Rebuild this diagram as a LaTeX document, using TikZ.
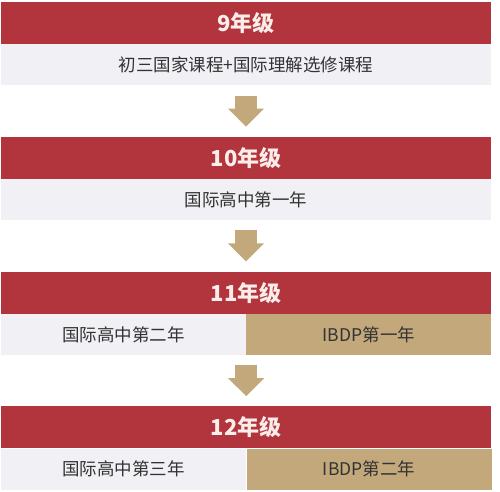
\documentclass[tikz,border=0pt]{standalone}
\usepackage{fontspec}
\setmainfont{Noto Sans CJK SC}
\usetikzlibrary{positioning,arrows.meta}
\definecolor{gradered}{HTML}{B2343C}
\definecolor{ibtan}{HTML}{C2A87A}
\definecolor{coursegray}{HTML}{F1F0F4}
\definecolor{coursetext}{HTML}{333333}
\definecolor{gradetext}{HTML}{FBEDEA}
\tikzset{
    %Define style for grade bars
    grade/.style={
           rectangle,
           fill=gradered,
           text=gradetext,
           font=\fontsize{22}{22}\selectfont\bfseries,
           minimum width=490pt,
           minimum height=42pt,
           inner sep=0pt},
    %Define style for course bars
    course/.style={
           rectangle,
           fill=coursegray,
           text=coursetext,
           font=\fontsize{17.5}{17.5}\selectfont,
           minimum width=490pt,
           minimum height=41pt,
           inner sep=0pt},
    %Define style for the IBDP half
    ibdp/.style={
           course,
           fill=ibtan,
           minimum width=245pt},
    % Define arrow style
    arrow/.style={
           -{Triangle[width=35pt,length=18pt]},
           draw=ibtan,
           line width=22pt,
           shorten <=10pt,
           shorten >=10pt,
           }
}

\begin{document}
\begin{tikzpicture}[x=1pt, y=-1pt, node distance=51pt]
    \useasboundingbox (0,0) rectangle (500,491);
    \node [grade] (G9) at (246,23) {9年级};
    \node [course, below=0pt of G9] (C9) {初三国家课程+国际理解选修课程};
    \node [grade, below=of C9] (G10) {10年级};
    \node [course, below=0pt of G10] (C10) {国际高中第一年};
    \node [grade, below=of C10] (G11) {11年级};
    \node [course, minimum width=245pt, below right=0pt of G11.south west] (C11) {国际高中第二年};
    \node [ibdp, right=0pt of C11] (IB11) {IBDP第一年};
    \node [grade, below=of C11.south east] (G12) {12年级};
    \node [course, minimum width=245pt, below right=0pt of G12.south west] (C12) {国际高中第三年};
    \node [ibdp, right=0pt of C12] (IB12) {IBDP第二年};

	\path (C9) edge[arrow] (G10);
	\path (C10) edge[arrow] (G11);
	\path (C11.south east) edge[arrow] (G12);
\end{tikzpicture}
\end{document}
